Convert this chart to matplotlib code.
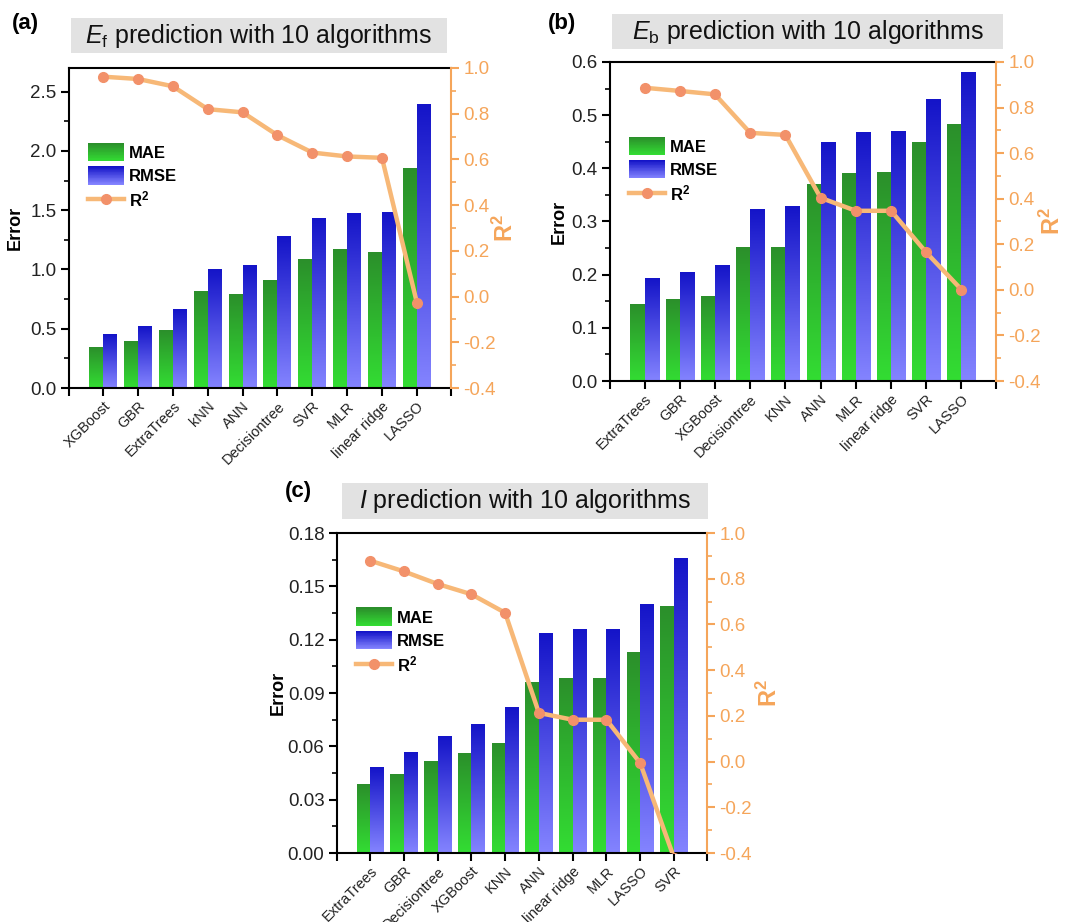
import numpy as np
import matplotlib
matplotlib.use("Agg")
import matplotlib.pyplot as plt
from matplotlib.colors import LinearSegmentedColormap, to_rgb
from matplotlib.patches import Rectangle
from matplotlib.lines import Line2D
from matplotlib.legend_handler import HandlerBase
from matplotlib.ticker import MultipleLocator, FormatStrFormatter

plt.rcParams['font.family'] = ['Liberation Sans', 'DejaVu Sans']
plt.rcParams['mathtext.fontset'] = 'custom'
plt.rcParams['mathtext.rm'] = 'Liberation Sans'
plt.rcParams['mathtext.it'] = 'Liberation Sans:italic'
plt.rcParams['mathtext.bf'] = 'Liberation Sans:bold'

# ---- data ----
algos_a = ["XGBoost", "GBR", "ExtraTrees", "kNN", "ANN", "Decisiontree",
           "SVR", "MLR", "linear ridge", "LASSO"]
mae_a = [0.344, 0.395, 0.488, 0.818, 0.790, 0.903, 1.081, 1.165, 1.143, 1.848]
rmse_a = [0.451, 0.516, 0.666, 0.999, 1.036, 1.278, 1.433, 1.473, 1.484, 2.393]
r2_a = [0.962, 0.952, 0.920, 0.820, 0.806, 0.706, 0.630, 0.613, 0.607, -0.026]

algos_b = ["ExtraTrees", "GBR", "XGBoost", "Decisiontree", "KNN", "ANN",
           "MLR", "linear ridge", "SVR", "LASSO"]
mae_b = [0.143, 0.153, 0.159, 0.252, 0.252, 0.370, 0.391, 0.392, 0.448, 0.482]
rmse_b = [0.193, 0.205, 0.217, 0.323, 0.328, 0.448, 0.468, 0.469, 0.530, 0.581]
r2_b = [0.887, 0.873, 0.858, 0.689, 0.680, 0.404, 0.347, 0.347, 0.164, 0.001]

algos_c = ["ExtraTrees", "GBR", "Decisiontree", "XGBoost", "KNN", "ANN",
           "linear ridge", "MLR", "LASSO", "SVR"]
mae_c = [0.0384, 0.0441, 0.0512, 0.0559, 0.0617, 0.0960, 0.0984, 0.0984, 0.1129, 0.1386]
rmse_c = [0.0482, 0.0566, 0.0656, 0.0722, 0.0821, 0.1234, 0.1256, 0.1256, 0.1399, 0.1659]
r2_c = [0.879, 0.832, 0.777, 0.732, 0.651, 0.213, 0.183, 0.183, -0.006, -0.42]

# ---- colours ----
mae_top, mae_bot = "#2b8f2b", "#33dd33"
rmse_top, rmse_bot = "#1414c8", "#8484ff"
line_col = "#f7b877"
mark_col = "#f2916a"
axis_orange = "#f5a55a"
tick_dark = "#222222"

W, H = 1076, 922
fig = plt.figure(figsize=(W / 100, H / 100), dpi=100)


def px_axes(l, t, r, b):
    return fig.add_axes([l / W, 1 - b / H, (r - l) / W, (b - t) / H])


def grad_cmap(bot, top):
    return LinearSegmentedColormap.from_list("g", [bot, top])


class GradHandler(HandlerBase):
    def __init__(self, bot, top, n=24):
        super().__init__()
        self.bot, self.top, self.n = np.array(to_rgb(bot)), np.array(to_rgb(top)), n

    def create_artists(self, legend, orig_handle, xdescent, ydescent,
                       width, height, fontsize, trans):
        arts = []
        for i in range(self.n):
            f = i / (self.n - 1)
            c = self.bot * (1 - f) + self.top * f
            arts.append(Rectangle((-xdescent, -ydescent + i * height / self.n),
                                  width, height / self.n + 0.3,
                                  facecolor=c, edgecolor='none', transform=trans))
        return arts


def panel(box, algos, mae, rmse, r2, ylim, major, minor, fmt, ylab_x, r2lab_x, leg_xy):
    ax = px_axes(*box)
    x = np.arange(len(algos))
    w = 0.4
    for vals, off, (bot, top) in [(mae, -w / 2, (mae_bot, mae_top)),
                                   (rmse, w / 2, (rmse_bot, rmse_top))]:
        bars = ax.bar(x + off, vals, width=w, facecolor='none', edgecolor='none')
        cm = grad_cmap(bot, top)
        for p in bars:
            x0, hgt = p.get_x(), p.get_height()
            ax.imshow(np.linspace(0, 1, 256).reshape(-1, 1), cmap=cm, origin='lower',
                      extent=[x0, x0 + p.get_width(), 0, hgt], aspect='auto', zorder=2)
    ax.set_xlim(-0.98, len(algos) - 1 + 0.98)
    ax.set_ylim(*ylim)
    ax.set_xticks(x)
    ax.set_xticklabels(algos, rotation=45, ha='right', rotation_mode='anchor',
                       fontsize=10.5, color=tick_dark)
    ax.set_xticks([ax.get_xlim()[0], ax.get_xlim()[1]], minor=True)
    ax.tick_params(axis='x', which='both', direction='out', length=6, width=1.5, pad=2)
    ax.yaxis.set_major_locator(MultipleLocator(major))
    ax.yaxis.set_minor_locator(MultipleLocator(minor))
    ax.yaxis.set_major_formatter(FormatStrFormatter(fmt))
    ax.tick_params(axis='y', which='major', direction='out', length=6, width=1.5,
                   labelsize=13.5, labelcolor=tick_dark, pad=3)
    ax.tick_params(axis='y', which='minor', direction='out', length=3.5, width=1.2)
    for s in ['left', 'bottom', 'top']:
        ax.spines[s].set_linewidth(1.5)
    ax.spines['right'].set_visible(False)
    ax.set_ylabel("Error", fontsize=13, fontweight='bold')
    ax.yaxis.set_label_coords(ylab_x, 0.5)

    ax2 = ax.twinx()
    ax2.plot(x, r2, color=line_col, lw=3.2, marker='o', ms=7,
             mfc=mark_col, mec=mark_col, zorder=3)
    ax2.set_ylim(-0.4, 1.0)
    ax2.yaxis.set_major_locator(MultipleLocator(0.2))
    ax2.yaxis.set_minor_locator(MultipleLocator(0.1))
    ax2.yaxis.set_major_formatter(FormatStrFormatter('%.1f'))
    ax2.tick_params(axis='y', which='major', direction='out', length=6, width=1.5,
                    colors=axis_orange, labelsize=13.5, pad=3)
    ax2.tick_params(axis='y', which='minor', direction='out', length=3.5, width=1.2,
                    colors=axis_orange)
    for s in ['left', 'bottom', 'top']:
        ax2.spines[s].set_visible(False)
    ax2.spines['right'].set_color(axis_orange)
    ax2.spines['right'].set_linewidth(1.5)
    ax2.set_ylabel(r"$\mathbf{R^2}$", fontsize=17, color=axis_orange, rotation=90)
    ax2.yaxis.set_label_coords(r2lab_x, 0.5)

    h_mae = Rectangle((0, 0), 1, 1)
    h_rmse = Rectangle((0, 0), 1, 1)
    h_r2 = Line2D([], [], color=line_col, lw=3.2, marker='o', ms=7,
                  mfc=mark_col, mec=mark_col)
    ax2.legend([h_mae, h_rmse, h_r2], ["MAE", "RMSE", r"$\mathbf{R^2}$"],
               handler_map={h_mae: GradHandler(mae_bot, mae_top),
                            h_rmse: GradHandler(rmse_bot, rmse_top)},
               loc='upper left', bbox_to_anchor=leg_xy, frameon=False,
               borderpad=0, borderaxespad=0, handlelength=2.15, handleheight=1.3,
               labelspacing=0.3, handletextpad=0.3,
               prop={'weight': 'bold', 'size': 12})
    return ax


def title_box(l, t, r, b, text):
    fig.patches.append(Rectangle((l / W, 1 - b / H), (r - l) / W, (b - t) / H,
                                 transform=fig.transFigure, facecolor='#e2e2e2',
                                 edgecolor='none', zorder=0))
    fig.text((l + r) / 2 / W, 1 - (t + b) / 2 / H, text, ha='center', va='center',
             fontsize=18, color='#111111')


panel((69, 68, 451, 388), algos_a, mae_a, rmse_a, r2_a, (0, 2.7), 0.5, 0.25, '%.1f',
      -0.118, 1.11, (0.05, 0.765))
panel((610, 62, 996, 381), algos_b, mae_b, rmse_b, r2_b, (0, 0.6), 0.1, 0.05, '%.1f',
      -0.109, 1.114, (0.049, 0.765))
panel((337, 533, 707, 853), algos_c, mae_c, rmse_c, r2_c, (0, 0.18), 0.03, 0.015, '%.2f',
      -0.135, 1.135, (0.051, 0.766))

title_box(71, 18, 447, 53, r"$E_{\rm f}$ prediction with 10 algorithms")
title_box(612, 14, 1003, 49, r"$E_{\rm b}$ prediction with 10 algorithms")
title_box(342, 483, 708, 519, r"$I$ prediction with 10 algorithms")

fig.text(25 / W, 1 - 24 / H, "(a)", ha='center', va='center', fontsize=16, fontweight='bold')
fig.text(562 / W, 1 - 23 / H, "(b)", ha='center', va='center', fontsize=16, fontweight='bold')
fig.text(298 / W, 1 - 492 / H, "(c)", ha='center', va='center', fontsize=16, fontweight='bold')

fig.savefig("out.png", dpi=100)
